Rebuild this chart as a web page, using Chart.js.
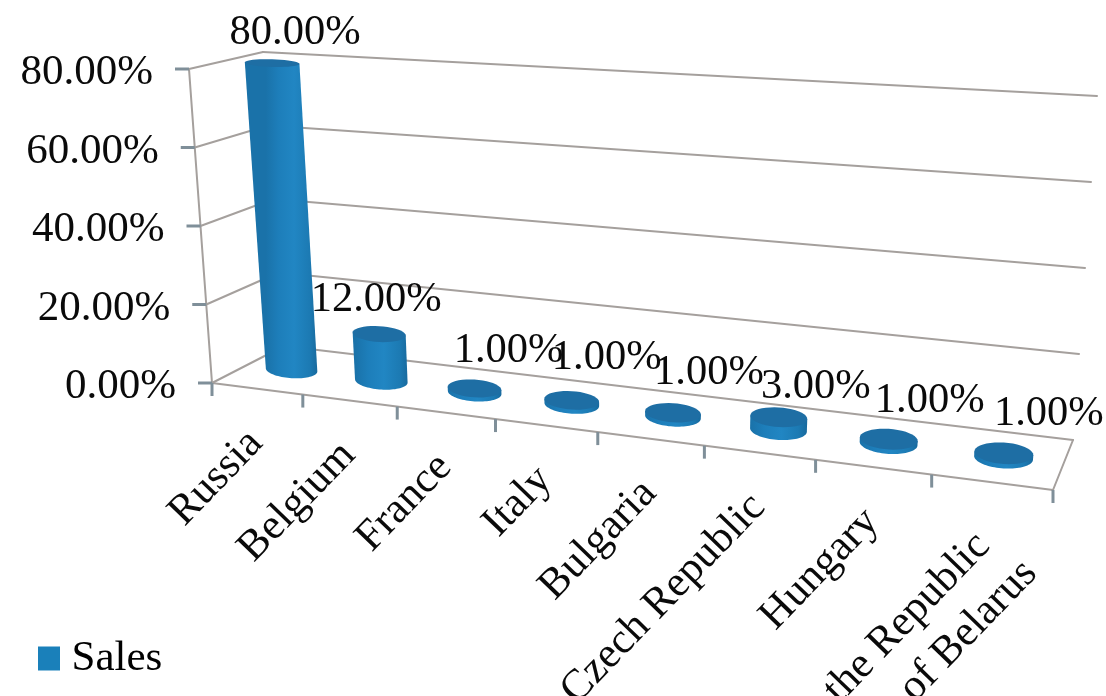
<!DOCTYPE html>
<html lang="en">
<head>
  <meta charset="UTF-8">
  <title>Sales by country</title>
  <script src="https://cdn.jsdelivr.net/npm/chart.js"></script>
  <style>
    html, body { margin: 0; background: #fff; }
    canvas { display: block; }
  </style>
</head>
<body>
  <canvas id="salesChart" width="1106" height="696"></canvas>

  <script>
    const countries = ['Russia', 'Belgium', 'France', 'Italy', 'Bulgaria', 'Czech Republic', 'Hungary', ['the Republic', 'of Belarus']];
    const salesShare = [80, 12, 1, 1, 1, 3, 1, 1];
    const seriesName = 'Sales';

    // 3D look: corners of the floor and walls on screen, front/back, bottom/top
    const FLB = [212, 383], FRB = [1053, 490], BLB = [284, 346], BRB = [1073, 440];
    const FLT = [189, 69], FRT = [1080, 122], BLT = [263, 52], BRT = [1097, 96];
    const perspective = 1.18;
    const barDepth = 0.22;

    const serif = '"Liberation Serif", serif';
    const wallColor = '#a5a09d';
    const tickColor = '#7f8f99';
    const blue = '#1a80ba';
    const ink = '#0a0a0a';
    // label nudges from the top of each cylinder
    const labelNudge = [[23, -19], [-3, -23], [34, -26], [35, -31], [36, -29], [37, -19], [41, -27], [45, -28]];

    function mix(a, b, t) {
      return [a[0] + (b[0] - a[0]) * t, a[1] + (b[1] - a[1]) * t];
    }

    // u along the categories, v into the depth, h up the value axis (all 0..1)
    function project(u, v, h) {
      const w = u / (u + perspective * (1 - u));
      const front = mix(mix(FLB, FRB, w), mix(FLT, FRT, w), h);
      const back = mix(mix(BLB, BRB, w), mix(BLT, BRT, w), h);
      return mix(front, back, v);
    }

    function toU(chart, px) {
      return (px - chart.chartArea.left) / chart.chartArea.width;
    }
    function toH(chart, py) {
      return (chart.chartArea.bottom - py) / chart.chartArea.height;
    }

    function line(ctx, a, b) {
      ctx.beginPath();
      ctx.moveTo(a[0], a[1]);
      ctx.lineTo(b[0], b[1]);
      ctx.stroke();
    }

    // rim of a cylinder at height h, halfWidth in pixels
    function ring(u, halfWidth, h) {
      const l = project(u - 0.05, 0.5, h), r = project(u + 0.05, 0.5, h);
      const near = project(u, 0.5 - barDepth, h), far = project(u, 0.5 + barDepth, h);
      const ax = halfWidth * (0.97 + 0.16 * u) * (1 + 0.06 * h);
      return {
        c: project(u, 0.5, h),
        ax: ax,
        ay: ax * 0.5 * (r[1] - l[1]) / (r[0] - l[0]),
        ry: (near[1] - far[1]) / 2
      };
    }

    function traceRing(ctx, e, from, to) {
      for (let i = 0; i <= 40; i++) {
        const t = from + (to - from) * i / 40;
        ctx.lineTo(e.c[0] + e.ax * Math.cos(t), e.c[1] + e.ay * Math.cos(t) + e.ry * Math.sin(t));
      }
    }

    class CylinderController extends Chart.BarController {
      draw() {
        const chart = this.chart, ctx = chart.ctx;
        this.getMeta().data.forEach(bar => {
          const u = toU(chart, bar.x);
          const bottom = ring(u, bar.width / 2, toH(chart, bar.base));
          const top = ring(u, bar.width / 2, toH(chart, bar.y));

          const g = ctx.createLinearGradient(bottom.c[0] - bottom.ax, 0, bottom.c[0] + bottom.ax, 0);
          g.addColorStop(0, '#1a72a9');
          g.addColorStop(0.25, '#1d7eba');
          g.addColorStop(0.55, '#2186c3');
          g.addColorStop(0.85, '#1c7ab3');
          g.addColorStop(1, '#186a9e');

          ctx.save();
          ctx.fillStyle = g;
          ctx.beginPath();
          traceRing(ctx, bottom, 0, Math.PI);
          ctx.lineTo(top.c[0] - top.ax, top.c[1] - top.ay);
          ctx.lineTo(top.c[0] + top.ax, top.c[1] + top.ay);
          ctx.closePath();
          ctx.fill();

          ctx.fillStyle = '#1e6ea4';
          ctx.beginPath();
          traceRing(ctx, top, 0, Math.PI * 2);
          ctx.closePath();
          ctx.fill();
          ctx.restore();
        });
      }
    }
    CylinderController.id = 'cylinder';
    CylinderController.defaults = Chart.BarController.defaults;
    CylinderController.overrides = Chart.BarController.overrides;
    Chart.register(CylinderController);

    const walls = {
      id: 'walls',
      beforeDatasetsDraw(chart) {
        const ctx = chart.ctx, xs = chart.scales.x, ys = chart.scales.y;
        ctx.save();
        ctx.lineCap = 'round';

        // grid on the side wall and back wall
        ctx.strokeStyle = wallColor;
        ctx.lineWidth = 2;
        ys.ticks.forEach(t => {
          const h = toH(chart, ys.getPixelForValue(t.value));
          line(ctx, project(0, 0, h), project(0, 1, h));
          line(ctx, project(0, 1, h), project(1, 1, h));
        });
        line(ctx, project(0, 0, 0), project(0, 0, 1));
        line(ctx, project(0, 0, 0), project(1, 0, 0));
        line(ctx, project(1, 0, 0), project(1, 1, 0));

        // tick marks
        ctx.lineCap = 'butt';
        ctx.strokeStyle = tickColor;
        ctx.lineWidth = 3;
        ys.ticks.forEach(t => {
          const p = project(0, 0, toH(chart, ys.getPixelForValue(t.value)));
          line(ctx, [p[0] - 14, p[1]], p);
        });
        for (let i = 0; i <= xs.ticks.length; i++) {
          const p = project(toU(chart, xs.getPixelForValue(i - 0.5)), 0, 0);
          line(ctx, p, [p[0], p[1] + 13]);
        }

        // value axis labels, they lean with the wall
        ctx.fillStyle = ink;
        ctx.font = '43px ' + serif;
        ctx.textAlign = 'right';
        ctx.textBaseline = 'middle';
        ys.ticks.forEach(t => {
          const p = project(0, 0, toH(chart, ys.getPixelForValue(t.value)));
          ctx.fillText(t.label, p[0] - 36, p[1] + 4);
        });

        // category labels, they follow the floor edge
        xs.ticks.forEach((t, i) => {
          const p = project(toU(chart, xs.getPixelForTick(i)), 0, 0);
          const rows = [].concat(t.label);
          ctx.save();
          ctx.translate(p[0] - 1, p[1] + 48);
          ctx.rotate(-46 * Math.PI / 180);
          if (rows.length > 1) {
            rows.forEach((r, k) => ctx.fillText(r, k * 13 - 12, 1 + k * 53));
          } else {
            ctx.fillText(rows[0], 0, 0);
          }
          ctx.restore();
        });
        ctx.restore();
      },
      afterDatasetsDraw(chart) {
        const ctx = chart.ctx;
        ctx.save();
        ctx.fillStyle = ink;
        ctx.font = '42.5px ' + serif;
        ctx.textAlign = 'center';
        ctx.textBaseline = 'alphabetic';
        chart.getDatasetMeta(0).data.forEach((bar, i) => {
          const p = project(toU(chart, bar.x), 0.5, toH(chart, bar.y));
          const text = chart.data.datasets[0].data[i].toFixed(2) + '%';
          ctx.fillText(text, p[0] + labelNudge[i][0], p[1] + labelNudge[i][1]);
        });
        ctx.restore();
      }
    };

    new Chart(document.getElementById('salesChart'), {
      type: 'cylinder',
      data: {
        labels: countries,
        datasets: [{
          label: seriesName,
          data: salesShare,
          backgroundColor: blue,
          categoryPercentage: 1,
          barPercentage: 0.5,
          clip: false
        }]
      },
      plugins: [walls],
      options: {
        responsive: false,
        animation: false,
        layout: { padding: { left: 38, right: 53, top: 69, bottom: 6 } },
        scales: {
          x: {
            type: 'category',
            grid: { display: false },
            border: { display: false },
            ticks: { display: false, autoSkip: false },
            afterFit: s => { s.height = 249; }
          },
          y: {
            type: 'linear',
            min: 0,
            max: 80,
            grid: { display: false },
            border: { display: false },
            ticks: { display: false, stepSize: 20, callback: v => v.toFixed(2) + '%' },
            afterFit: s => { s.width = 174; }
          }
        },
        plugins: {
          tooltip: { enabled: false },
          legend: {
            position: 'bottom',
            align: 'start',
            labels: {
              color: ink,
              font: { family: serif, size: 43 },
              boxWidth: 4,
              boxHeight: 4,
              padding: 8,
              generateLabels: chart => [{
                text: seriesName,
                fillStyle: blue,
                strokeStyle: blue,
                lineWidth: 20,
                datasetIndex: 0
              }]
            }
          }
        }
      }
    });
  </script>
</body>
</html>
